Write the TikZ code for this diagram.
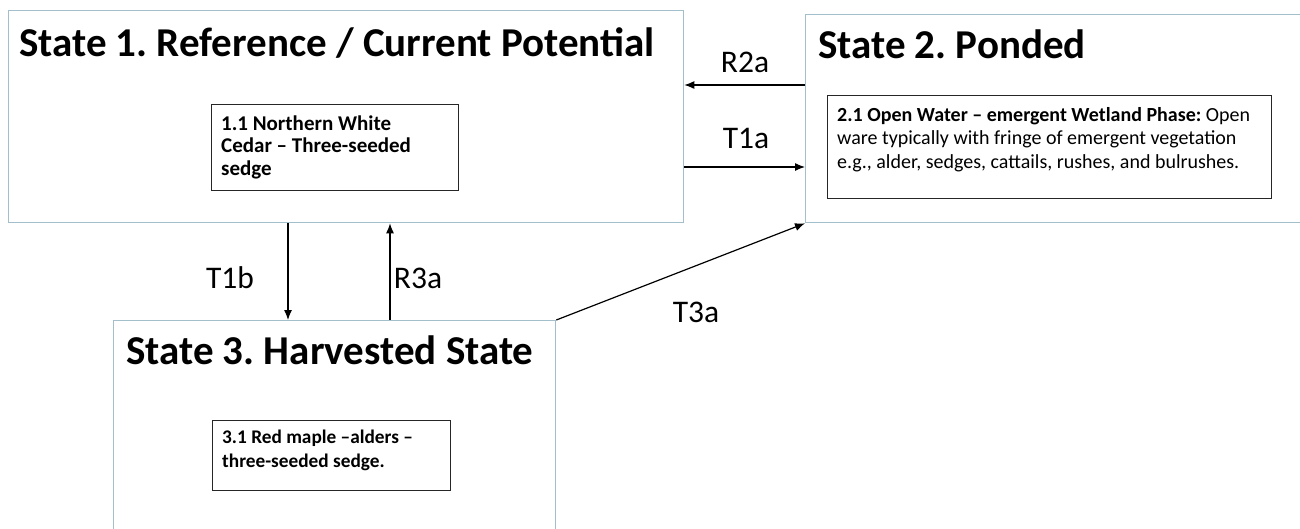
\documentclass[tikz,border=0pt]{standalone}
\usepackage{fontspec}
\setmainfont{Carlito}
\usetikzlibrary{arrows.meta}
\definecolor{outerc}{HTML}{A3BFCB}
\frenchspacing
\tikzset{
  statebox/.style={draw=outerc, line width=1.3pt, anchor=north west, inner sep=0pt},
  title/.style={anchor=base west, font=\bfseries\fontsize{41}{46}\selectfont, inner sep=0pt},
  phasebox/.style={draw=black!85, line width=1.3pt, anchor=north west, inner sep=0pt},
  phasetext/.style={anchor=north west, align=left, inner sep=0pt},
  lbl/.style={font=\fontsize{31.5}{36}\selectfont, inner sep=0pt},
  arr/.style={draw=black, line width=1.2pt, -{Latex[length=10pt,width=8pt]}}
}
\begin{document}
\begin{tikzpicture}[x=1pt,y=-1pt]
\useasboundingbox (0,0) rectangle (1300,528);
\clip (0,0) rectangle (1300,528);
\fill[white] (0,0) rectangle (1300,528);
% state boxes
\node[statebox, minimum width=675pt, minimum height=212pt] (s1) at (8,10) {};
\node[statebox, minimum width=510pt, minimum height=208pt] (s2) at (805,14) {};
\node[statebox, minimum width=442pt, minimum height=230pt] (s3) at (113,320) {};
% titles
\node[title] (t1) at (19,56) {State 1. Reference / Current Potential};
\node[title] (t2) at (818,58) {State 2. Ponded};
\node[title] (t3) at (126,364) {State 3. Harvested State};
% phase boxes
\node[phasebox, minimum width=247pt, minimum height=86pt] (p1) at (211,104) {};
\node[phasetext, font=\bfseries\fontsize{21}{22.5}\selectfont] (p1t) at (221,115.5)
  {1.1 Northern White\\Cedar -- Three-seeded\\sedge};
\node[phasebox, minimum width=444pt, minimum height=103pt] (p2) at (827,95) {};
\node[phasetext, font=\fontsize{20}{23.5}\selectfont] (p2t) at (837,107)
  {\textbf{2.1 Open Water -- emergent Wetland Phase:} Open\\ware typically with fringe of emergent vegetation\\e.g., alder, sedges, cattails, rushes, and bulrushes.};
\node[phasebox, minimum width=238pt, minimum height=70pt] (p3) at (212,420) {};
\node[phasetext, font=\bfseries\fontsize{19.3}{24}\selectfont] (p3t) at (222,429.5)
  {3.1 Red maple --alders --\\three-seeded sedge.};
% connector anchor coordinates
\coordinate (yR2a) at (0,85);
\coordinate (yT1a) at (0,167);
\coordinate (xT1b) at (288,0);
\coordinate (xR3a) at (390,0);
\draw[arr] (s2.west |- yR2a) -- (s1.east |- yR2a);
\draw[arr] (s1.east |- yT1a) -- (s2.west |- yT1a);
\draw[arr] (s1.south -| xT1b) -- (s3.north -| xT1b);
\draw[arr] (s3.north -| xR3a) -- (s1.south -| xR3a);
\draw[arr] (s3.north east) -- (s2.south west);
% labels
\node[lbl] (lR2a) at (745,62) {R2a};
\node[lbl] (lT1a) at (746,138) {T1a};
\node[lbl] (lT1b) at (230,278) {T1b};
\node[lbl] (lR3a) at (418,278) {R3a};
\node[lbl] (lT3a) at (696,312) {T3a};
\end{tikzpicture}
\end{document}
